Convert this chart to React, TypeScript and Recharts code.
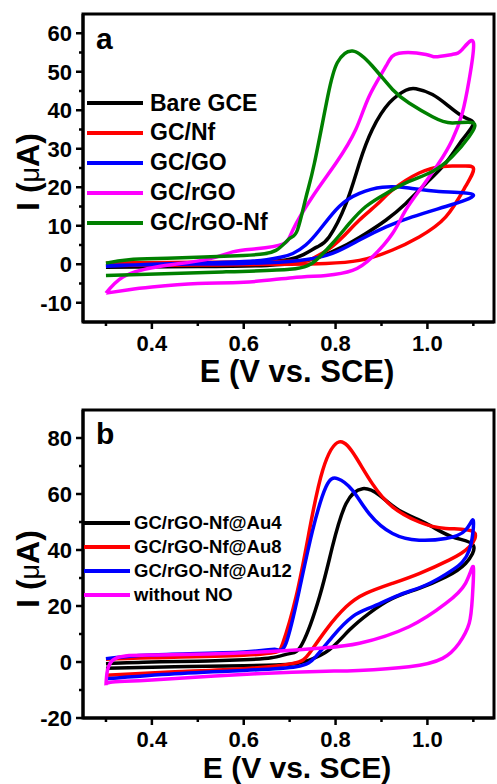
import React from 'react';
import { LineChart, Line, XAxis, YAxis, Legend, ReferenceArea } from 'recharts';

type Pt = [number, number];

// ---- panel a: E (V) vs I (uA), forward sweep then reverse sweep ----
const bareGce: Pt[] = [
  [0.3, -0.3], [0.4, 0.0], [0.5, 0.2], [0.6, 0.4], [0.66, 0.7], [0.7, 1.3], [0.73, 2.5], [0.76, 4.5],
  [0.786, 7.1], [0.823, 15.8], [0.852, 26.3], [0.88, 35], [0.917, 41.9], [0.953, 45.2], [0.975, 45.6],
  [1.011, 44.1], [1.047, 41], [1.08, 38.2], [1.1, 36.5],
  [1.076, 32.3], [1.04, 26.3], [0.997, 21], [0.953, 15.8], [0.91, 11.5], [0.866, 8], [0.815, 4.5],
  [0.765, 1.9], [0.72, 0.5], [0.65, -0.3], [0.5, -0.6], [0.3, -0.8],
];
const gcNf: Pt[] = [
  [0.3, 0.3], [0.5, 0.5], [0.7, 0.8], [0.75, 1.5], [0.78, 3.5], [0.815, 7], [0.852, 11.5], [0.89, 15.5],
  [0.924, 19.3], [0.982, 23.7], [1.033, 25.4], [1.07, 25.5], [1.1, 25],
  [1.083, 20.2], [1.04, 12.3], [0.982, 7.1], [0.924, 3.7], [0.852, 1.0], [0.779, 0.2], [0.7, 0],
  [0.5, -0.2], [0.3, -0.3],
];
const gcGo: Pt[] = [
  [0.3, -0.5], [0.4, 0.0], [0.5, 0.3], [0.6, 0.7], [0.65, 1.2], [0.68, 1.8], [0.707, 2.8], [0.735, 5],
  [0.765, 8.9], [0.808, 15], [0.852, 18.4], [0.902, 20], [0.96, 19.8], [1.025, 18.9], [1.1, 18],
  [1.04, 15], [0.967, 12.3], [0.91, 9.7], [0.852, 6.3], [0.793, 2.8], [0.721, 1.0], [0.6, 0.2],
  [0.45, 0], [0.3, -0.3],
];
const gcRgo: Pt[] = [
  [0.3, -7.5], [0.337, -3.3], [0.41, -0.7], [0.518, 1.2], [0.576, 3.2], [0.627, 4], [0.685, 5.2],
  [0.707, 8.9], [0.75, 17.6], [0.801, 26.3], [0.844, 35], [0.873, 43.6], [0.91, 51.5], [0.938, 54.8],
  [0.997, 54.5], [1.018, 53.9], [1.054, 54.5], [1.076, 55.8], [1.1, 57.7],
  [1.091, 48], [1.076, 39.3], [1.054, 32.3], [1.025, 26.3], [0.989, 20.2], [0.953, 14.1], [0.924, 8],
  [0.88, 1.9], [0.837, -1.6], [0.779, -2.9], [0.706, -3.5], [0.6, -4.7], [0.5, -5.0], [0.4, -5.9],
  [0.35, -6.6], [0.3, -7.5],
];
const gcRgoNf: Pt[] = [
  [0.3, 0.3], [0.35, 1.2], [0.45, 1.6], [0.6, 2.3], [0.67, 3.6], [0.7, 6.7], [0.717, 8.9], [0.736, 17.6],
  [0.754, 26.3], [0.783, 43.6], [0.804, 52.4], [0.837, 55.4], [0.88, 51.5], [0.924, 45.4], [0.96, 41.9],
  [1.011, 38.3], [1.054, 36.7], [1.1, 36.7],
  [1.091, 33.2], [1.054, 28], [1.011, 24.1], [0.96, 21.5], [0.91, 18.4], [0.866, 15], [0.83, 10.6],
  [0.793, 5.4], [0.757, 1.0], [0.74, -0.3], [0.7, -1.3], [0.554, -2.0], [0.3, -2.9],
];

// ---- panel b ----
const au4: Pt[] = [
  [0.3, -0.6], [0.4, 0], [0.5, 0.3], [0.6, 0.8], [0.66, 1.5], [0.7, 3], [0.728, 6.7], [0.765, 23.3],
  [0.793, 41.1], [0.823, 56.6], [0.859, 61.9], [0.895, 59.6], [0.938, 54.2], [0.997, 49.5],
  [1.054, 44.7], [1.1, 41.7],
  [1.083, 35.2], [1.04, 30.4], [0.982, 26.3], [0.924, 22.7], [0.873, 17.4], [0.83, 11.4], [0.786, 4.3],
  [0.743, 0.7], [0.7, -0.8], [0.6, -1.3], [0.45, -1.7], [0.3, -2.2],
];
const au8: Pt[] = [
  [0.3, 1.0], [0.4, 1.5], [0.6, 2.4], [0.67, 3.5], [0.685, 6.7], [0.714, 23.3], [0.743, 47],
  [0.772, 68.5], [0.808, 78.6], [0.844, 73.2], [0.88, 63.7], [0.924, 55.4], [0.982, 50], [1.04, 47.7],
  [1.1, 46.5],
  [1.091, 41.1], [1.047, 36.4], [0.982, 31.6], [0.924, 28.1], [0.866, 24.5], [0.823, 19.7],
  [0.779, 11.4], [0.743, 3.1], [0.707, -0.5], [0.6, -2.4], [0.45, -3.5], [0.3, -4.7],
];
const au12: Pt[] = [
  [0.3, 1.2], [0.4, 2.5], [0.6, 3.6], [0.67, 4.5], [0.692, 6.7], [0.721, 25.7], [0.75, 47],
  [0.779, 62.5], [0.804, 65.5], [0.837, 61.3], [0.873, 53], [0.924, 45.9], [0.982, 43.5], [1.04, 44.1],
  [1.083, 47.1], [1.1, 50.4],
  [1.091, 39.9], [1.054, 32.8], [0.997, 27.5], [0.938, 23.9], [0.88, 19.7], [0.837, 16.2], [0.793, 9],
  [0.757, 1.9], [0.714, -1.7], [0.6, -3], [0.45, -4.2], [0.3, -6],
];
const withoutNo: Pt[] = [
  [0.3, -8.3], [0.315, 0.7], [0.41, 2.5], [0.627, 3.5], [0.77, 5.0], [0.852, 6.7], [0.96, 12.6],
  [1.04, 20.9], [1.083, 28.1], [1.1, 34],
  [1.098, 23.3], [1.091, 13.8], [1.069, 6.7], [1.033, 1.3], [0.96, -1.7], [0.85, -3.0], [0.78, -3.3],
  [0.627, -4.2], [0.4, -6.4], [0.31, -7.2], [0.3, -8.3],
];

const xDomain: [number, number] = [0.25, 1.145];
const xTicks = [0.3, 0.4, 0.5, 0.6, 0.7, 0.8, 0.9, 1.0, 1.1];
const yTicksA = [-10, -5, 0, 5, 10, 15, 20, 25, 30, 35, 40, 45, 50, 55, 60];
const yTicksB = [-20, -10, 0, 10, 20, 30, 40, 50, 60, 70, 80];

const seriesA = [
  { name: 'Bare GCE', color: '#000000', data: bareGce },
  { name: 'GC/Nf', color: '#ff0000', data: gcNf },
  { name: 'GC/GO', color: '#0000ff', data: gcGo },
  { name: 'GC/rGO', color: '#ff00ff', data: gcRgo },
  { name: 'GC/rGO-Nf', color: '#008000', data: gcRgoNf },
];
const seriesB = [
  { name: 'GC/rGO-Nf@Au4', color: '#000000', data: au4 },
  { name: 'GC/rGO-Nf@Au8', color: '#ff0000', data: au8 },
  { name: 'GC/rGO-Nf@Au12', color: '#0000ff', data: au12 },
  { name: 'without NO', color: '#ff00ff', data: withoutNo },
];

const FONT = '"Liberation Sans", Arial, Helvetica, sans-serif';
const toPoints = (pts: Pt[]) => pts.map(([e, i]) => ({ e, i }));

const XTick = (props: any) => {
  const { x, y, payload } = props;
  const v = payload.value as number;
  const major = Math.round(v * 10) % 2 === 0;
  return (
    <g>
      <line x1={x} x2={x} y1={y} y2={y + (major ? 7 : 4)} stroke="#000" strokeWidth={2.5} />
      {major && (
        <text x={x} y={y + 28.5} textAnchor="middle" fontSize={22} fontWeight="bold" fontFamily={FONT} fill="#000">
          {v.toFixed(1)}
        </text>
      )}
    </g>
  );
};

const makeYTick = (step: number) => (props: any) => {
  const { x, y, payload } = props;
  const v = payload.value as number;
  const major = Math.abs(v) % step === 0;
  return (
    <g>
      <line x1={x} x2={x - (major ? 7 : 4)} y1={y} y2={y} stroke="#000" strokeWidth={2.5} />
      {major && (
        <text x={x - 11} y={y + 8} textAnchor="end" fontSize={22} fontWeight="bold" fontFamily={FONT} fill="#000">
          {v}
        </text>
      )}
    </g>
  );
};

const XTitle = ({ baseline, size }: { baseline: number; size: number }) => (
  <text x={297} y={baseline} textAnchor="middle" fontSize={size} fontWeight="bold" fontFamily={FONT} fill="#000">
    E (V vs. SCE)
  </text>
);

const YTitle = ({ cy, tag, tagY }: { cy: number; tag: string; tagY: number }) => (
  <g>
    <text
      transform={`translate(38.5, ${cy}) rotate(-90)`}
      textAnchor="middle"
      fontSize={32}
      fontWeight="bold"
      fontFamily={FONT}
      fill="#000"
    >
      I (<tspan fontWeight="normal" fontSize={27}>μ</tspan>A)
    </text>
    <text x={96} y={tagY} fontSize={30} fontWeight="bold" fontFamily={FONT} fill="#000">
      {tag}
    </text>
  </g>
);

const LegendBox = ({ items, lineW, gap, font, row }: any) => (
  <div style={{ fontFamily: FONT }}>
    {items.map((s: any) => (
      <div key={s.name} style={{ display: 'flex', alignItems: 'center', height: row }}>
        <div style={{ width: lineW, height: 4, background: s.color, marginRight: gap }} />
        <span style={{ fontSize: font, fontWeight: 'bold', lineHeight: `${row}px`, whiteSpace: 'nowrap', color: '#000' }}>
          {s.name}
        </span>
      </div>
    ))}
  </div>
);

const Panel = ({ series, yDomain, yTicks, yStep, top, bottom, tag, tagY, titleCy, titleBase, titleSize, legend }: any) => (
  <LineChart width={497} height={392} margin={{ top, right: 3, bottom: 0, left: 0 }}>
    <XAxis
      dataKey="e"
      type="number"
      domain={xDomain}
      allowDataOverflow
      ticks={xTicks}
      interval={0}
      height={bottom}
      tickSize={0}
      tickMargin={0}
      tickLine={false}
      tick={XTick}
      axisLine={{ stroke: '#000', strokeWidth: 3 }}
      label={<XTitle baseline={titleBase} size={titleSize} />}
    />
    <YAxis
      type="number"
      domain={yDomain}
      allowDataOverflow
      ticks={yTicks}
      interval={0}
      width={83}
      tickSize={0}
      tickMargin={0}
      tickLine={false}
      tick={makeYTick(yStep)}
      axisLine={{ stroke: '#000', strokeWidth: 3 }}
      label={<YTitle cy={titleCy} tag={tag} tagY={tagY} />}
    />
    {/* plot frame */}
    <ReferenceArea
      x1={xDomain[0]}
      x2={xDomain[1]}
      y1={yDomain[0]}
      y2={yDomain[1]}
      fill="none"
      fillOpacity={0}
      stroke="#000"
      strokeWidth={3}
      ifOverflow="visible"
    />
    <Legend
      layout="horizontal"
      verticalAlign="middle"
      align="center"
      wrapperStyle={{ position: 'absolute', left: legend.left, top: legend.top, width: 'auto', height: 'auto' }}
      content={() => <LegendBox items={series} lineW={legend.lineW} gap={legend.gap} font={legend.font} row={legend.row} />}
    />
    {series.map((s: any) => (
      <Line
        key={s.name}
        name={s.name}
        data={toPoints(s.data)}
        dataKey="i"
        type="natural"
        stroke={s.color}
        strokeWidth={3.5}
        strokeLinejoin="round"
        dot={false}
        isAnimationActive={false}
      />
    ))}
  </LineChart>
);

export default function App() {
  return (
    <div style={{ position: 'absolute', left: 0, top: 0, width: 497, height: 784, background: '#fff', fontFamily: FONT }}>
      <Panel
        series={seriesA}
        yDomain={[-15, 65]}
        yTicks={yTicksA}
        yStep={10}
        top={14}
        bottom={70}
        tag="a"
        tagY={49}
        titleCy={172}
        titleBase={382}
        titleSize={31}
        legend={{ left: 87, top: 88.5, lineW: 56, gap: 7, font: 23, row: 29.8 }}
      />
      <Panel
        series={seriesB}
        yDomain={[-20, 90]}
        yTicks={yTicksB}
        yStep={20}
        top={18}
        bottom={66}
        tag="b"
        tagY={52}
        titleCy={177}
        titleBase={386}
        titleSize={30}
        legend={{ left: 84, top: 119.4, lineW: 46, gap: 4, font: 18.5, row: 23.9 }}
      />
    </div>
  );
}
